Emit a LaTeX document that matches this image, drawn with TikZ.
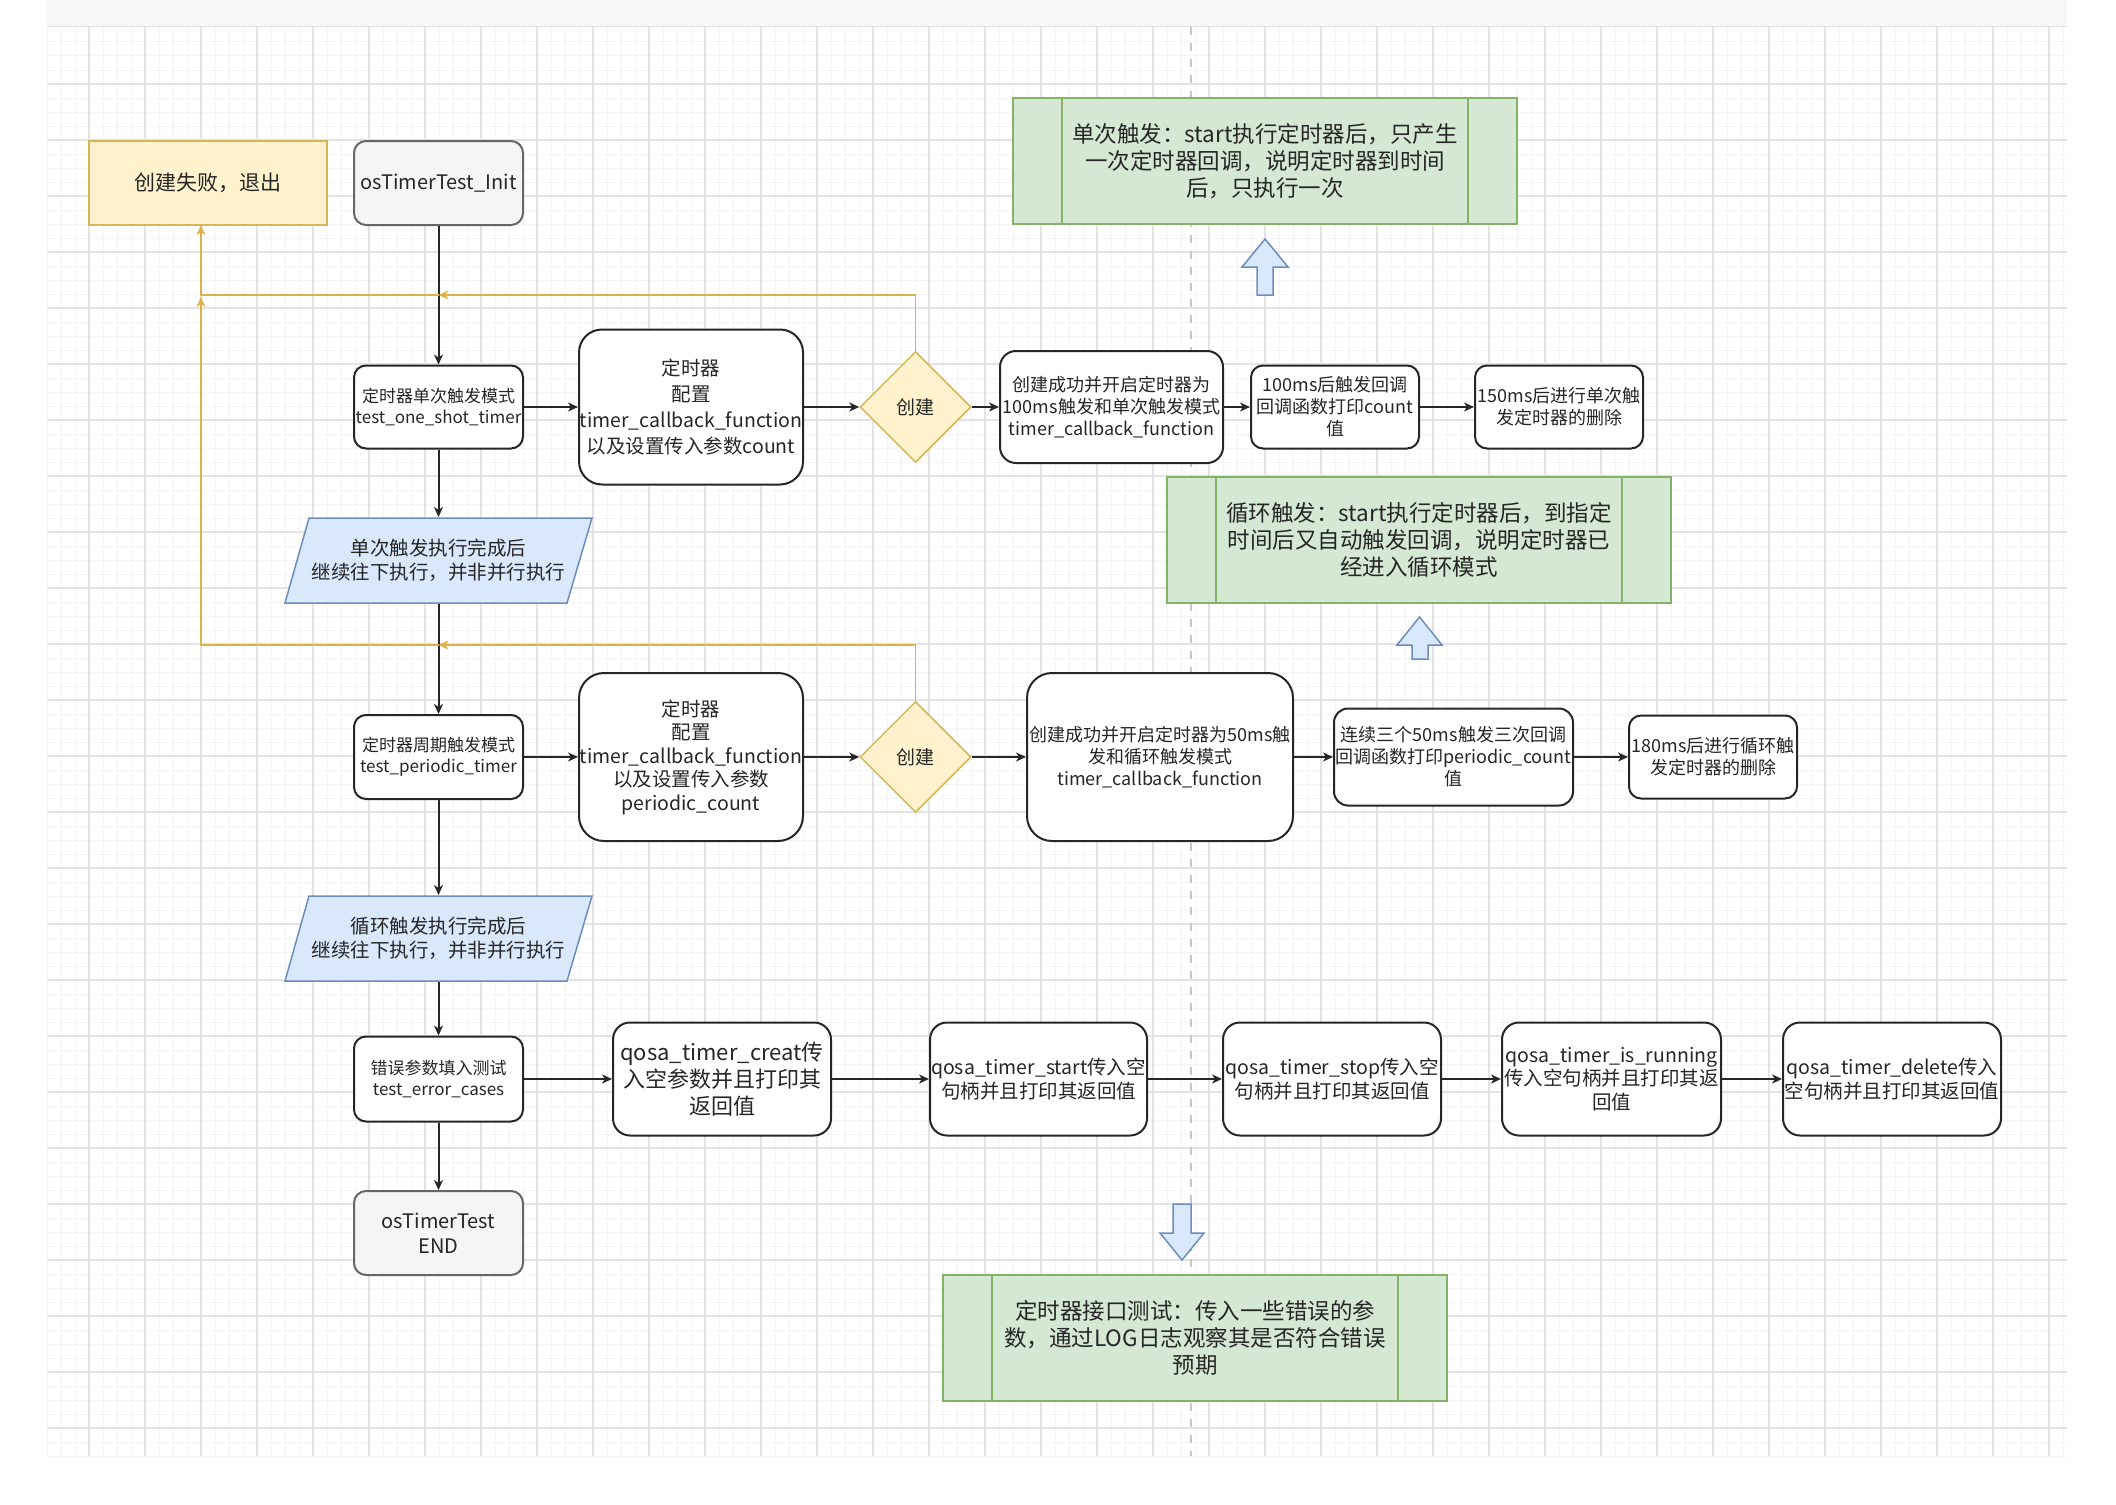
\documentclass[tikz,border=0pt]{standalone}
\usepackage{fontspec}
\setmainfont{Noto Sans CJK SC}
\usetikzlibrary{arrows.meta,shapes.geometric}
\definecolor{failfill}{HTML}{FFF2CC}
\definecolor{faildraw}{HTML}{D6B656}
\definecolor{failline}{HTML}{DDB24C}
\definecolor{greyfill}{HTML}{F5F5F5}
\definecolor{greydraw}{HTML}{666666}
\definecolor{notefill}{HTML}{D5E8D4}
\definecolor{notedraw}{HTML}{82B366}
\definecolor{bluefill}{HTML}{DAE8FC}
\definecolor{bluedraw}{HTML}{6C8EBF}
\newcommand\fs[2]{\fontsize{#1}{#2}\selectfont}
\tikzset{
  box/.style={draw=black!85,line width=2pt,fill=white,rounded corners=#1,align=center,inner sep=0pt},
  box/.default=12pt,
  smalltext/.style={font=\fs{18}{22}},
  modetext/.style={font=\fs{17}{21}},
  midtext/.style={font=\fs{19.5}{23.5}},
  greybox/.style={box,draw=greydraw,fill=greyfill,minimum width=169,minimum height=84,font=\fs{20}{25}},
  failbox/.style={draw=faildraw,fill=failfill,line width=1.5pt,minimum width=238,minimum height=84,font=\fs{21}{25}},
  decide/.style={diamond,draw=faildraw,fill=failfill,line width=1.5pt,minimum width=111,minimum height=111,inner sep=0pt,font=\fs{19}{23}},
  note/.style={draw=notedraw,fill=notefill,line width=2pt,minimum width=504,minimum height=126,align=center,inner sep=0pt,font=\fs{22.5}{27}},
  notebar/.style={draw=notedraw,line width=2pt},
  paratext/.style={minimum width=283,minimum height=85,align=center,inner sep=0pt,font=\fs{19.5}{24}},
  parashape/.style={draw=bluedraw,fill=bluefill,line width=1.5pt},
  bigarrow/.style={draw=bluedraw,fill=bluefill,line width=1.5pt},
  backarrow/.style={draw=failline,line width=1.5pt,-{Stealth[length=10pt,width=9pt,inset=3pt]}},
  minorgrid/.style={draw=gray!9,line width=1pt},
  majorgrid/.style={draw=gray!22,line width=1.5pt}
}
\begin{document}
\begin{tikzpicture}[x=1pt,y=-1pt,line width=2pt,color=black!85,>={Stealth[length=10pt,width=9pt,inset=3pt]}]
\useasboundingbox (0,0) rectangle (2116,1504);
\fill[white] (0,0) rectangle (2116,1504);
\fill[gray!6] (47,0) rectangle (2067,27);
\draw[gray!25,line width=1pt] (47,27) -- (2067,27);
% grid
\foreach \x in {47,61,...,2067} \draw[minorgrid] (\x,27) -- (\x,1456);
\foreach \y in {42,56,...,1456} \draw[minorgrid] (47,\y) -- (2067,\y);
\foreach \x in {89,145,...,2067} \draw[majorgrid] (\x,27) -- (\x,1456);
\foreach \y in {84,140,...,1456} \draw[majorgrid] (47,\y) -- (2067,\y);
\draw[gray!45,line width=1.5pt,dash pattern=on 8pt off 8pt] (1191,27) -- (1191,1456);

% left column
\node[failbox] (fail) at (208,183) {创建失败，退出};
\node[greybox] (init) at (438.5,183) {osTimerTest\_Init};
\node[box,modetext,minimum width=169,minimum height=83] (single) at (438.5,407) {定时器单次触发模式\\test\_one\_shot\_timer};
\filldraw[parashape] (309,518) -- (592,518) -- (567,603) -- (285,603) -- cycle;
\node[paratext] (paraA) at (438.5,560.5) {单次触发执行完成后\\继续往下执行，并非并行执行};
\node[box,modetext,minimum width=169,minimum height=84] (periodic) at (438.5,757) {定时器周期触发模式\\test\_periodic\_timer};
\filldraw[parashape] (309,896) -- (592,896) -- (567,981) -- (285,981) -- cycle;
\node[paratext] (paraB) at (438.5,938.5) {循环触发执行完成后\\继续往下执行，并非并行执行};
\node[box,modetext,minimum width=169,minimum height=85] (err) at (438.5,1079) {错误参数填入测试\\test\_error\_cases};
\node[greybox] (endn) at (438.5,1233) {osTimerTest\\END};

% one shot row
\node[box=23pt,font=\fs{19.5}{26},minimum width=224,minimum height=155] (cfgA) at (691,407) {定时器\\配置\\timer\_callback\_function\\以及设置传入参数count};
\node[decide] (dA) at (915.5,407) {创建};
\node[box=16pt,smalltext,minimum width=223,minimum height=112] (okA) at (1111.5,407) {创建成功并开启定时器为\\100ms触发和单次触发模式\\timer\_callback\_function};
\node[box,smalltext,minimum width=168,minimum height=83] (cbA) at (1335,407) {100ms后触发回调\\回调函数打印count\\值};
\node[box,smalltext,minimum width=168,minimum height=83] (delA) at (1559,407) {150ms后进行单次触\\发定时器的删除};

% periodic row
\node[box=25pt,midtext,minimum width=224,minimum height=168] (cfgB) at (691,757) {定时器\\配置\\timer\_callback\_function\\以及设置传入参数\\periodic\_count};
\node[decide] (dB) at (915.5,757) {创建};
\node[box=25pt,smalltext,minimum width=266,minimum height=168] (okB) at (1160,757) {创建成功并开启定时器为50ms触\\发和循环触发模式\\timer\_callback\_function};
\node[box=14pt,smalltext,minimum width=239,minimum height=97] (cbB) at (1453.5,757) {连续三个50ms触发三次回调\\回调函数打印periodic\_count\\值};
\node[box,smalltext,minimum width=168,minimum height=83] (delB) at (1713,757) {180ms后进行循环触\\发定时器的删除};

% error row
\node[box=17pt,font=\fs{22}{27},minimum width=218,minimum height=113] (creat) at (722,1079) {qosa\_timer\_creat传\\入空参数并且打印其\\返回值};
\node[box=17pt,midtext,minimum width=217,minimum height=113] (tstart) at (1038.5,1079) {qosa\_timer\_start传入空\\句柄并且打印其返回值};
\node[box=17pt,midtext,minimum width=218,minimum height=113] (tstop) at (1332,1079) {qosa\_timer\_stop传入空\\句柄并且打印其返回值};
\node[box=17pt,midtext,minimum width=219,minimum height=113] (trun) at (1611.5,1079) {qosa\_timer\_is\_running\\传入空句柄并且打印其返\\回值};
\node[box=17pt,midtext,minimum width=218,minimum height=113] (tdel) at (1892,1079) {qosa\_timer\_delete传入\\空句柄并且打印其返回值};

% notes
\node[note] (noteA) at (1265,161) {单次触发：start执行定时器后，只产生\\一次定时器回调，说明定时器到时间\\后，只执行一次};
\node[note] (noteB) at (1419,540) {循环触发：start执行定时器后，到指定\\时间后又自动触发回调，说明定时器已\\经进入循环模式};
\node[note] (noteC) at (1195,1338) {定时器接口测试：传入一些错误的参\\数，通过LOG日志观察其是否符合错误\\预期};
\draw[notebar] ([xshift=50pt]noteA.north west) -- ([xshift=50pt]noteA.south west);
\draw[notebar] ([xshift=-50pt]noteA.north east) -- ([xshift=-50pt]noteA.south east);
\draw[notebar] ([xshift=50pt]noteB.north west) -- ([xshift=50pt]noteB.south west);
\draw[notebar] ([xshift=-50pt]noteB.north east) -- ([xshift=-50pt]noteB.south east);
\draw[notebar] ([xshift=50pt]noteC.north west) -- ([xshift=50pt]noteC.south west);
\draw[notebar] ([xshift=-50pt]noteC.north east) -- ([xshift=-50pt]noteC.south east);
\draw[bigarrow] (1265,239) -- (1288,267) -- (1273,267) -- (1273,295) -- (1257,295) -- (1257,267) -- (1242,267) -- cycle;
\draw[bigarrow] (1419.5,617) -- (1442,645) -- (1428,645) -- (1428,659) -- (1412,659) -- (1412,645) -- (1397,645) -- cycle;
\draw[bigarrow] (1173,1204) -- (1191,1204) -- (1191,1233) -- (1204,1233) -- (1182,1260) -- (1160,1233) -- (1173,1233) -- cycle;

% connectors
\draw[->] (init) -- (single);
\draw[->] (single) -- (cfgA);
\draw[->] (cfgA) -- (dA);
\draw[->] (dA) -- (okA);
\draw[->] (okA) -- (cbA);
\draw[->] (cbA) -- (delA);
\draw[->] (single) -- (paraA);
\draw[->] (paraA) -- (periodic);
\draw[->] (periodic) -- (cfgB);
\draw[->] (cfgB) -- (dB);
\draw[->] (dB) -- (okB);
\draw[->] (okB) -- (cbB);
\draw[->] (cbB) -- (delB);
\draw[->] (periodic) -- (paraB);
\draw[->] (paraB) -- (err);
\draw[->] (err) -- (endn);
\draw[->] (err) -- (creat);
\draw[->] (creat) -- (tstart);
\draw[->] (tstart) -- (tstop);
\draw[->] (tstop) -- (trun);
\draw[->] (trun) -- (tdel);

% failure paths
\coordinate (jA) at (438.5,295);
\coordinate (jB) at (438.5,645);
\coordinate (kA) at (201,225);
\coordinate (kB) at (201,297);
\draw[backarrow] (dA.north) |- (jA);
\draw[backarrow] (jA) -| (kA);
\draw[backarrow] (dB.north) |- (jB);
\draw[backarrow] (jB) -| (kB);
\end{tikzpicture}
\end{document}
